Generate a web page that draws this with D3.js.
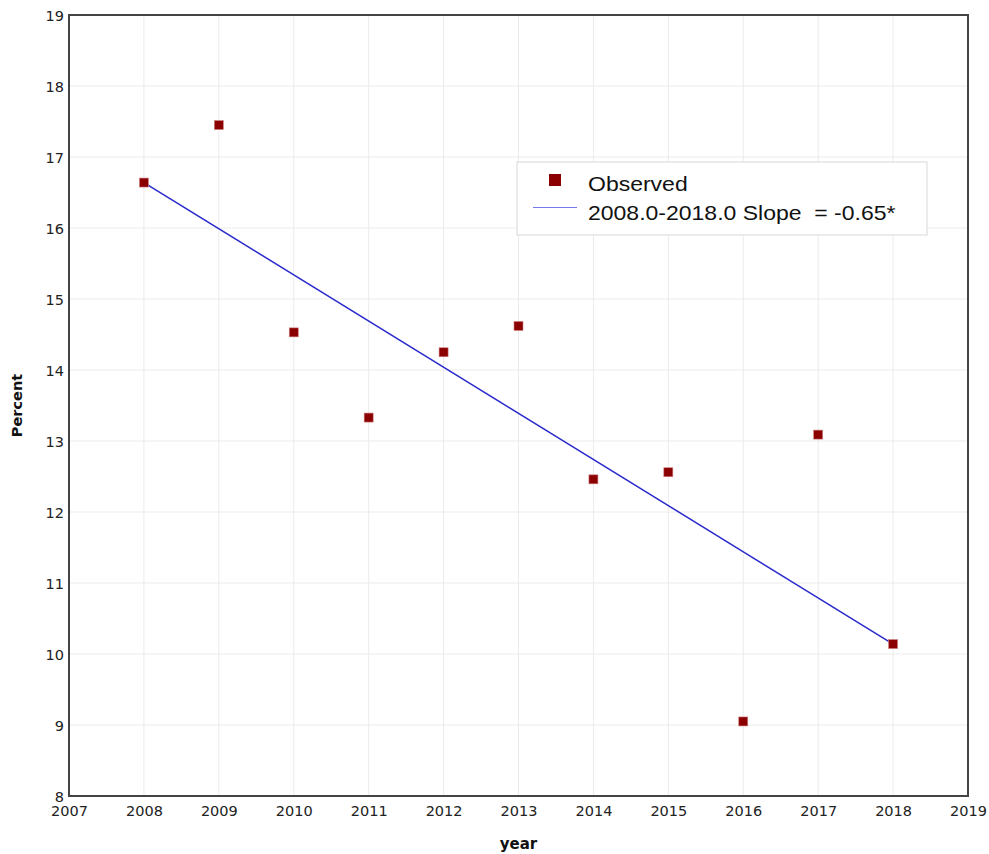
<!DOCTYPE html>
<html><head><meta charset="utf-8">
<script src="https://cdn.jsdelivr.net/npm/d3@7"></script>
<style>body{margin:0;background:#fff}svg{display:block}</style>
</head><body>
<svg id="c" width="989" height="854"></svg>
<script>
const years = [2008,2009,2010,2011,2012,2013,2014,2015,2016,2017,2018];
const observed = [16.64,17.45,14.53,13.33,14.25,14.62,12.46,12.56,9.05,13.09,10.14];
const trendYears = [2008,2018];
const trendValues = [16.64,10.14];
const xTicks = [2007,2008,2009,2010,2011,2012,2013,2014,2015,2016,2017,2018,2019];
const yTicks = [8,9,10,11,12,13,14,15,16,17,18,19];
const legendLabels = ["Observed","2008.0-2018.0 Slope  = -0.65*"];

const svg = d3.select("#c");
const L=69,R=968,T=15,B=796;
const x = d3.scaleLinear().domain([2007,2019]).range([L,R]);
const y = d3.scaleLinear().domain([8,19]).range([B,T]);
const FF = "'DejaVu Sans',Verdana,sans-serif";

// grid
svg.append("g").selectAll("line").data(xTicks).join("line")
  .attr("x1",d=>x(d)).attr("x2",d=>x(d)).attr("y1",T).attr("y2",B)
  .attr("stroke","#ebebeb").attr("stroke-width",1);
svg.append("g").selectAll("line").data(yTicks).join("line")
  .attr("y1",d=>y(d)).attr("y2",d=>y(d)).attr("x1",L).attr("x2",R)
  .attr("stroke","#ebebeb").attr("stroke-width",1);

// axes
const xa = svg.append("g").attr("transform",`translate(0,${B})`)
  .call(d3.axisBottom(x).tickValues(xTicks).tickFormat(d3.format("d")).tickSize(0).tickPadding(10));
const ya = svg.append("g").attr("transform",`translate(${L},0)`)
  .call(d3.axisLeft(y).tickValues(yTicks).tickFormat(d3.format("d")).tickSize(0).tickPadding(5));
[xa,ya].forEach(a=>{a.select(".domain").remove();
  a.selectAll("text").attr("font-family",FF).attr("font-size",14.5).attr("fill","#222");});
ya.selectAll("text").attr("dy","0.35em");

// frame
svg.append("rect").attr("x",L).attr("y",T).attr("width",R-L).attr("height",B-T)
  .attr("fill","none").attr("stroke","#444").attr("stroke-width",2);

// titles
svg.append("text").attr("x",(L+R)/2).attr("y",849).attr("text-anchor","middle")
  .attr("font-family",FF).attr("font-weight","bold").attr("font-size",15).attr("fill","#111").text("year");
svg.append("text").attr("transform",`translate(22,${(T+B)/2}) rotate(-90)`).attr("text-anchor","middle")
  .attr("font-family",FF).attr("font-weight","bold").attr("font-size",14.5).attr("fill","#111").text("Percent");

// trend line
svg.append("path").datum(trendYears.map((d,i)=>[d,trendValues[i]]))
  .attr("d",d3.line().x(d=>x(d[0])).y(d=>y(d[1])))
  .attr("fill","none").attr("stroke","#2a2acc").attr("stroke-width",1.5);

// points
const s=9;
svg.append("g").selectAll("rect").data(years.map((d,i)=>[d,observed[i]])).join("rect")
  .attr("x",d=>x(d[0])-s/2).attr("y",d=>y(d[1])-s/2).attr("width",s).attr("height",s)
  .attr("fill","#8b0000").attr("stroke","#d08080").attr("stroke-width",0.6);

// legend
const lg = svg.append("g");
lg.append("rect").attr("x",517).attr("y",162).attr("width",410).attr("height",73)
  .attr("fill","#fff").attr("stroke","#d8d8d8").attr("stroke-width",1);
lg.append("rect").attr("x",549).attr("y",174).attr("width",12).attr("height",12).attr("fill","#8b0000");
lg.append("line").attr("x1",533).attr("x2",577).attr("y1",207.5).attr("y2",207.5).attr("stroke","#7777ee").attr("stroke-width",1);
lg.selectAll("text").data(legendLabels).join("text")
  .attr("transform",(d,i)=>`translate(588,${191+i*29}) scale(1.15,1)`)
  .attr("xml:space","preserve").style("white-space","pre")
  .attr("font-family","'Liberation Sans',Arial,sans-serif").attr("font-size",20).attr("fill","#111").text(d=>d);
</script>
</body></html>
